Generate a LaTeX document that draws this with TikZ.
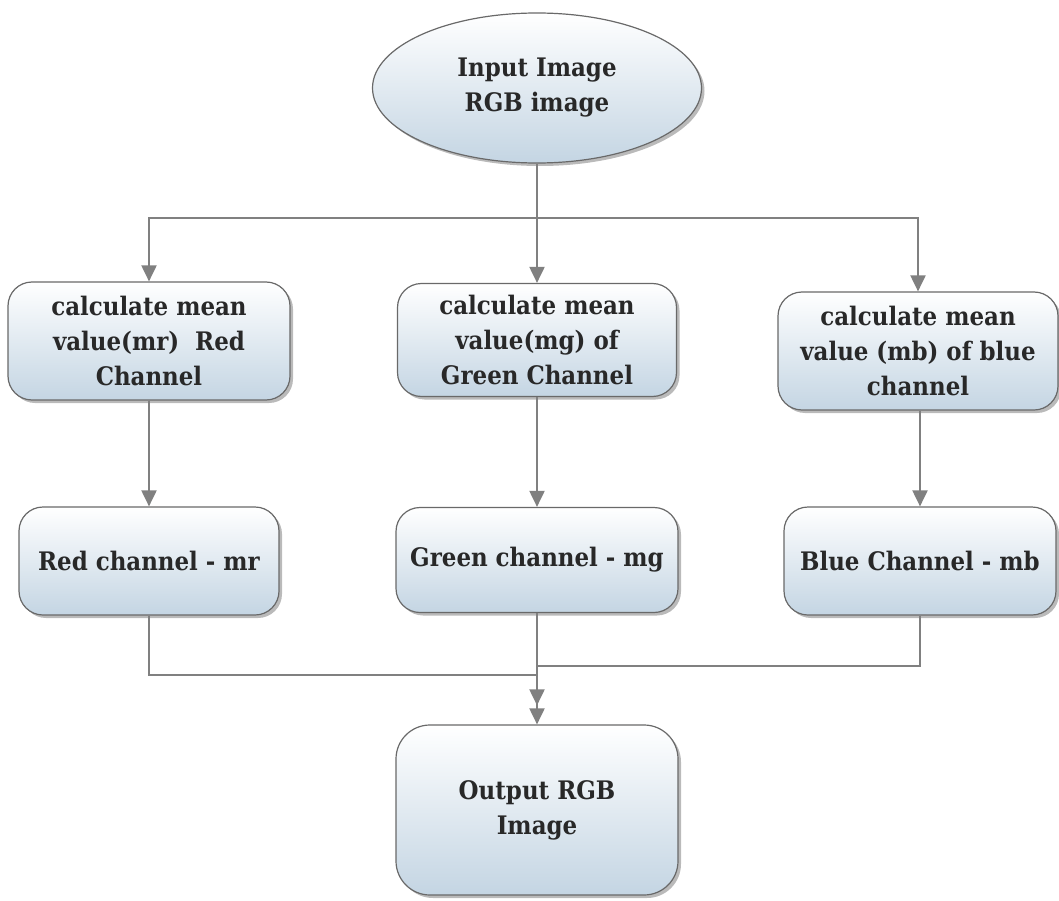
\documentclass[tikz,border=0pt]{standalone}
\usepackage{fontspec}
\setmainfont{DejaVu Serif Condensed}
\usetikzlibrary{shapes.geometric,arrows.meta,shadows}
\definecolor{boxblue}{RGB}{196,213,227}
\definecolor{edgegray}{RGB}{105,105,105}
\definecolor{linegray}{RGB}{128,128,128}
\definecolor{txtgray}{RGB}{40,40,40}
\begin{document}
\begin{tikzpicture}[x=1pt,y=-1pt,
  boxbase/.style={draw=edgegray, line width=1.2pt, top color=white, bottom color=boxblue,
    drop shadow={shadow xshift=3pt, shadow yshift=-3pt, opacity=0.45, fill=black!60},
    text=txtgray, font=\fontsize{25.5}{35}\selectfont\bfseries, align=center, inner sep=2pt},
  procbox/.style={boxbase, rectangle, rounded corners=24pt},
  termbox/.style={boxbase, ellipse},
  conn/.style={draw=linegray, line width=2pt},
  arr/.style={conn, -{Triangle[length=16pt,width=15pt]}}
]
\useasboundingbox (0,0) rectangle (1059,901);

\node[termbox, minimum width=329pt, minimum height=150pt] (in) at (537,88) {Input Image\\RGB image};

\node[procbox, minimum width=282pt, minimum height=118pt] (c1) at (149,341) {calculate mean\\value(mr)~ Red\\Channel};
\node[procbox, minimum width=279pt, minimum height=113pt] (c2) at (537,340) {calculate mean\\value(mg) of\\Green Channel};
\node[procbox, minimum width=280pt, minimum height=118pt] (c3) at (918,351) {calculate mean\\value (mb) of blue\\channel};

\node[procbox, minimum width=260pt, minimum height=108pt] (r1) at (149,561) {Red channel - mr};
\node[procbox, minimum width=282pt, minimum height=105pt] (r2) at (537,560) {Green channel - mg};
\node[procbox, minimum width=272pt, minimum height=108pt] (r3) at (920,561) {Blue Channel - mb};

\node[procbox, rounded corners=34pt, minimum width=282pt, minimum height=170pt] (out) at (537,810) {Output RGB\\Image};

\coordinate (sp) at (537,218);
\coordinate (jl) at (537,675);
\coordinate (jr) at (537,666);

\draw[conn] (in.south) -- (sp);
\draw[arr] (sp) -| (c1.north);
\draw[arr] (sp) -- (c2.north);
\draw[arr] (sp) -| (c3.north);

\draw[arr] (c1.south) -- (r1.north);
\draw[arr] (c2.south) -- (r2.north);
\draw[arr] (c3.south -| r3.north) -- (r3.north);

\draw[conn] (r1.south) |- (jl);
\draw[conn] (r3.south) |- (jr);
\draw[arr] (r2.south) -- (out.north);
\draw[arr, shorten >=19pt] (jl) -- (out.north);
\end{tikzpicture}
\end{document}
